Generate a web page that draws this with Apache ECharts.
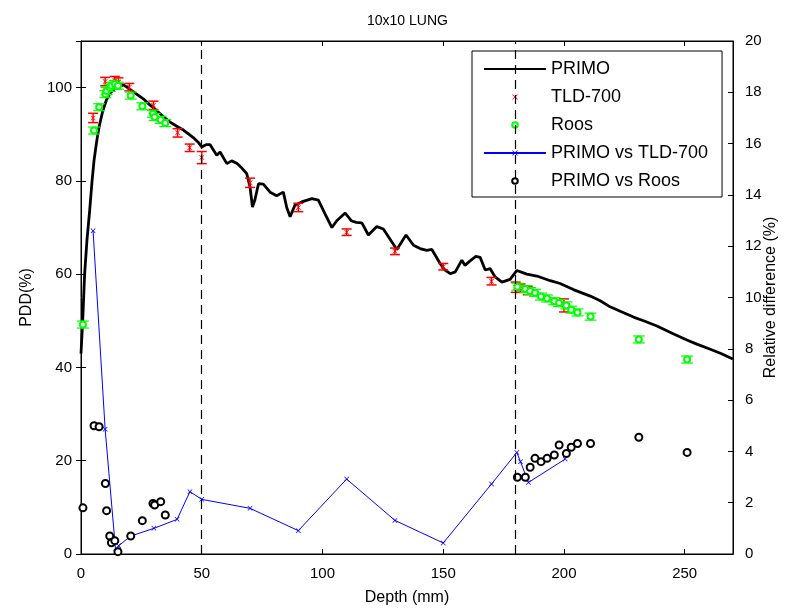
<!DOCTYPE html>
<html><head><meta charset="utf-8">
<script src="https://cdn.jsdelivr.net/npm/echarts@6/dist/echarts.min.js"></script>
<style>html,body{margin:0;padding:0;background:#fff}#c{width:785px;height:612px}</style>
</head><body><div id="c"></div>
<script>
// ---- data ----
const primoDepth = [0,0.7,1.5,2.5,3.6,4.5,5.4,6.5,7.5,9,10.5,12,14,16,17.5,19,22,25.8,28.5,31.3,34,36.9,40,42.4,44.5,46.5,48.5,50,52,53.4,56.2,57.6,60.4,62.4,64.5,66.5,68.6,70,71,72,73.5,75.5,78.5,81,83.8,85.2,86.6,88.6,91.4,95.6,98.3,101,103.9,106,109.4,112.1,114,116.3,119,122.5,125.2,128,130.8,134.6,137.7,140.4,143.2,145.3,148.7,150.5,152.9,155,157.7,159,161,163.5,165.3,167.4,169.4,171.5,174.3,177.7,180.5,184.6,188.8,194.3,198.4,203.9,210.9,215,219.1,224,228.8,233.5,238.5,245,250.9,255,260.6,265,268.8,270];
const primoPdd = [43,50,60,67.5,73.7,79.5,84.4,88.5,91.6,95,97.3,98.8,99.8,100.6,100.6,100.1,99,97.6,96.3,95.1,93.8,92.6,91.6,90.9,90.1,89.3,88.3,87.3,87.8,87.8,85.5,86.2,83.7,84.3,83.8,82.8,81.6,78.7,74.4,75.9,79.4,79.3,77.5,76.8,77.6,74.3,72.3,74.8,75.5,76.2,75.9,73.0,70.0,71.5,73.1,71.4,71.1,71.0,68.4,70.2,69.7,67.5,65.3,68.4,66.2,65.5,65.1,65.3,62.3,61.0,60.1,60.5,63.0,61.9,62.8,63.8,63.6,60.9,61.2,59.4,58.3,58.9,60.8,60.0,59.6,58.6,58.0,56.7,55.3,54.3,53.0,51.9,50.8,49.9,48.9,47.3,45.9,45.0,43.9,43.0,42.1,41.8];

const tldDepth = [5,10,14,15.5,20,30,40,45,50,70,90,110,130,150,170,180,182,185,200];
const tldPdd   = [93.5,101.3,101.5,101.2,100.1,96.2,90.3,87.1,85.0,79.6,74.3,69.0,64.9,61.6,58.5,57.2,57.0,56.5,53.3];
const tldErr   = [1.0,0.9,0.9,0.9,0.8,0.9,0.9,0.8,1.3,1.0,0.9,0.7,0.7,0.7,0.8,1.1,0.9,0.9,1.4];

const roosDepth = [0.8,5.4,7.5,10.1,10.6,11.9,12.6,14,15.3,20.6,25.4,29.8,30.5,33,34.9,180.7,184,186,188,190.5,193,196,198,201,203,205.6,211,231,251];
const roosPdd   = [49.2,90.8,95.8,98.6,99.3,99.9,100.4,100.8,100.4,98.3,96.0,94.4,93.7,93.1,92.4,57.3,56.8,56.4,56.0,55.2,54.8,54.2,53.8,53.3,52.4,51.8,50.9,46.0,41.7];
const roosErr   = [0.75,0.75,0.75,0.75,0.75,0.75,0.75,0.75,0.75,0.75,0.75,0.75,0.75,0.75,0.75,0.75,0.75,0.75,0.75,0.75,0.75,0.75,0.75,0.75,0.75,0.75,0.75,0.75,0.75];

const diffTldDepth = [5,10,14.4,15.6,20.6,30.2,39.8,45.1,50,70,90,110,130,150,170,180.5,182,185.3,200.5];
const diffTldVal   = [12.6,4.86,0.07,0.32,0.7,1.0,1.35,2.43,2.13,1.78,0.91,2.92,1.31,0.43,2.73,3.96,3.6,2.79,3.7];

const diffRoosDepth = [0.8,5.4,7.5,10.1,10.6,11.9,12.6,14,15.3,20.6,25.4,29.8,30.5,33,34.9,180.7,184,186,188,190.5,193,196,198,201,203,205.6,211,231,251];
const diffRoosVal   = [1.8,5.0,4.96,2.75,1.69,0.70,0.44,0.52,0.09,0.7,1.3,1.97,1.91,2.04,1.52,2.99,2.99,3.38,3.73,3.6,3.73,3.86,4.25,3.92,4.16,4.31,4.31,4.55,3.96];

const dashedAt = [50, 180];
const xTicks = {min:0, max:270, step:50};
const yLeftTicks = {min:0, max:110, step:20};
const yRightTicks = {min:0, max:20, step:2};

// ---- chart ----
const FONT = "'Liberation Sans', Arial, sans-serif";
const X_PATH = 'path://M0,1L1,0L5,4L9,0L10,1L6,5L10,9L9,10L5,6L1,10L0,9L4,5Z';
function pairs(xs, ys){ return xs.map((x,i)=>[x, ys[i]]); }
function errData(xs, ys, es){ return xs.map((x,i)=>[x, ys[i]-es[i], ys[i]+es[i]]); }
function errRender(half, width, color){
  return function(params, api){
    const x = api.value(0);
    const lo = api.coord([x, api.value(1)]);
    const hi = api.coord([x, api.value(2)]);
    const style = {stroke: color, lineWidth: width};
    return {type:'group', children:[
      {type:'line', shape:{x1:lo[0],y1:lo[1],x2:hi[0],y2:hi[1]}, style:style},
      {type:'line', shape:{x1:lo[0]-half,y1:lo[1],x2:lo[0]+half,y2:lo[1]}, style:style},
      {type:'line', shape:{x1:hi[0]-half,y1:hi[1],x2:hi[0]+half,y2:hi[1]}, style:style}
    ]};
  };
}
const axisCommon = {
  axisLine:{show:true, onZero:false, lineStyle:{color:'#000', width:1}},
  axisTick:{show:true, inside:true, length:5, lineStyle:{color:'#000'}},
  splitLine:{show:false}
};
const labelStyle = {color:'#000', fontSize:15, fontFamily:FONT};
const nameStyle = {color:'#000', fontSize:16, fontFamily:FONT};

const chart = echarts.init(document.getElementById('c'));
chart.setOption({
  animation:false,
  backgroundColor:'#fff',
  title:{text:'10x10 LUNG', left:362, top:9, textStyle:{color:'#000', fontSize:14, fontWeight:'normal', fontFamily:FONT}},
  grid:{left:81, right:52, top:41, bottom:58, outerBoundsMode:'none', containLabel:false,
    show:true, borderColor:'#000', borderWidth:1, backgroundColor:'#fff'},
  legend:{
    orient:'vertical', left:472, top:51, padding:[9,14,7,11],
    itemWidth:62, itemHeight:7, itemGap:10,
    borderColor:'#000', borderWidth:1, backgroundColor:'#fff',
    textStyle:{color:'#000', fontSize:18, fontFamily:FONT},
    data:[{name:'PRIMO', itemStyle:{opacity:0}},'TLD-700','Roos','PRIMO vs TLD-700','PRIMO vs Roos']
  },
  xAxis:[
    Object.assign({type:'value', min:xTicks.min, max:xTicks.max, interval:xTicks.step, position:'bottom',
      axisLabel:Object.assign({margin:12, formatter:v=> v===xTicks.max ? '' : String(v)}, labelStyle),
      name:'Depth (mm)', nameLocation:'middle', nameGap:36, nameMoveOverlap:false, nameTextStyle:nameStyle}, axisCommon),
    Object.assign({type:'value', min:xTicks.min, max:xTicks.max, interval:xTicks.step, position:'top',
      axisLabel:{show:false}}, axisCommon)
  ],
  yAxis:[
    Object.assign({type:'value', min:yLeftTicks.min, max:yLeftTicks.max, interval:yLeftTicks.step, position:'left',
      axisLabel:Object.assign({margin:9, formatter:v=> v===yLeftTicks.max ? '' : String(v)}, labelStyle),
      name:'PDD(%)', nameLocation:'middle', nameGap:46, nameMoveOverlap:false, nameTextStyle:nameStyle}, axisCommon),
    Object.assign({type:'value', min:yRightTicks.min, max:yRightTicks.max, interval:yRightTicks.step, position:'right', offset:0,
      axisLabel:Object.assign({margin:12}, labelStyle),
      name:'Relative difference (%)', nameLocation:'middle', nameRotate:90, nameGap:30, nameMoveOverlap:false, nameTextStyle:nameStyle}, axisCommon),
    Object.assign({type:'value', min:yLeftTicks.min, max:yLeftTicks.max, interval:yLeftTicks.step, position:'right', offset:0,
      axisLabel:{show:false}}, axisCommon, {axisLine:{show:false}})
  ],
  series:[
    {name:'PRIMO', type:'line', xAxisIndex:0, yAxisIndex:0, data:pairs(primoDepth, primoPdd),
      symbol:'none', lineStyle:{color:'#000', width:2.8}, itemStyle:{color:'#000'}, z:2,
      markLine:{silent:true, symbol:['none','none'], label:{show:false},
        lineStyle:{color:'#000', type:[9,6], width:1.2},
        data:dashedAt.map(v=>({xAxis:v}))}},
    {type:'custom', xAxisIndex:0, yAxisIndex:0, data:errData(tldDepth, tldPdd, tldErr),
      encode:{x:0, y:[1,2]}, renderItem:errRender(5, 1.5, '#ff0000'), z:3},
    {name:'TLD-700', type:'line', xAxisIndex:0, yAxisIndex:0, data:pairs(tldDepth, tldPdd),
      symbol:X_PATH, symbolSize:5, lineStyle:{width:0, opacity:0}, itemStyle:{color:'#ff0000'}, z:4},
    {type:'custom', xAxisIndex:0, yAxisIndex:0, data:errData(roosDepth, roosPdd, roosErr),
      encode:{x:0, y:[1,2]}, renderItem:errRender(6, 1.2, '#00ff00'), z:3},
    {name:'Roos', type:'line', xAxisIndex:0, yAxisIndex:0, data:pairs(roosDepth, roosPdd),
      symbol:'emptyCircle', symbolSize:6, lineStyle:{width:0, opacity:0}, itemStyle:{color:'#00ff00', borderWidth:1.2}, z:4},
    {name:'PRIMO vs TLD-700', type:'line', xAxisIndex:0, yAxisIndex:1, data:pairs(diffTldDepth, diffTldVal),
      symbol:X_PATH, symbolSize:5, lineStyle:{color:'#0000ff', width:1}, itemStyle:{color:'#0000ff'}, z:4},
    {name:'PRIMO vs Roos', type:'line', xAxisIndex:0, yAxisIndex:1, data:pairs(diffRoosDepth, diffRoosVal),
      symbol:'emptyCircle', symbolSize:7, lineStyle:{width:0, opacity:0}, itemStyle:{color:'#000', borderWidth:1}, z:4}
  ]
});
</script></body></html>
